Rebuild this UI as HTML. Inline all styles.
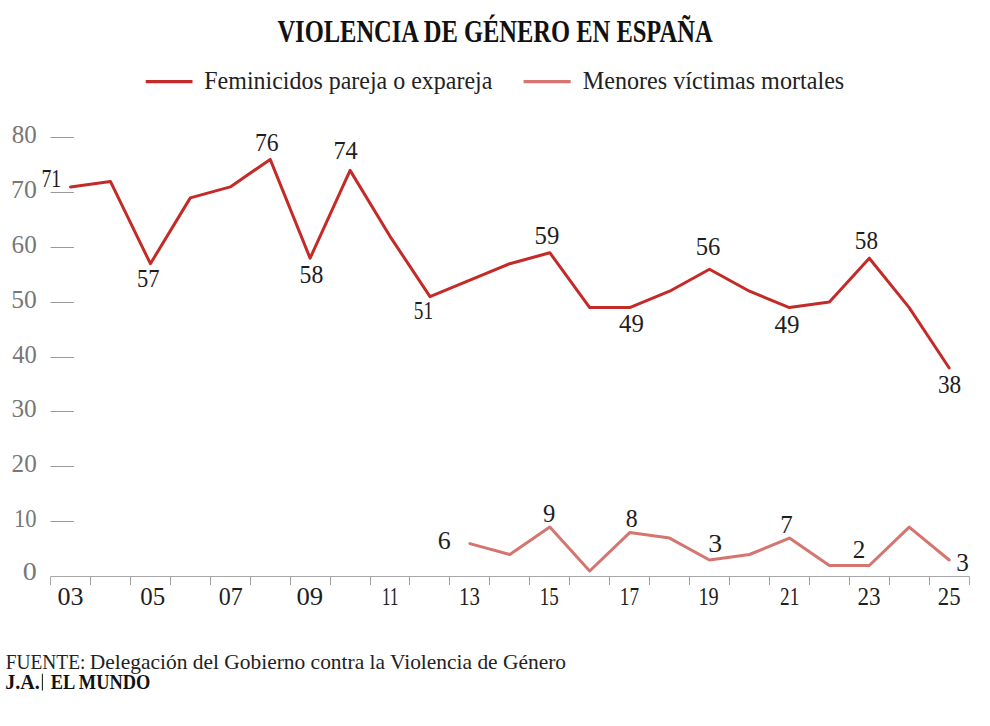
<!DOCTYPE html>
<html><head><meta charset="utf-8"><style>
html,body{margin:0;padding:0;background:#fff;width:990px;height:726px;overflow:hidden}
svg{position:absolute;left:0;top:0}
text{font-family:"Liberation Serif",serif}
</style></head><body>
<svg width="990" height="726" viewBox="0 0 990 726">
<text x="277.43" y="41.50" font-size="30.50" font-weight="bold" fill="#111" textLength="435.15" lengthAdjust="spacingAndGlyphs">VIOLENCIA DE GÉNERO EN ESPAÑA</text>
<line x1="145.7" y1="81.6" x2="192.5" y2="81.6" stroke="#c42b28" stroke-width="3.2"/>
<text x="204.31" y="88.80" font-size="26.00" fill="#222" textLength="288.03" lengthAdjust="spacingAndGlyphs">Feminicidos pareja o expareja</text>
<line x1="523.6" y1="81.6" x2="570.7" y2="81.6" stroke="#d47570" stroke-width="3.2"/>
<text x="582.70" y="88.80" font-size="26.00" fill="#222" textLength="261.58" lengthAdjust="spacingAndGlyphs">Menores víctimas mortales</text>
<line x1="50.6" y1="521.5" x2="73.9" y2="521.5" stroke="#9a9a9a" stroke-width="1"/>
<line x1="50.6" y1="466.5" x2="73.9" y2="466.5" stroke="#9a9a9a" stroke-width="1"/>
<line x1="50.6" y1="411.5" x2="73.9" y2="411.5" stroke="#9a9a9a" stroke-width="1"/>
<line x1="50.6" y1="357.5" x2="73.9" y2="357.5" stroke="#9a9a9a" stroke-width="1"/>
<line x1="50.6" y1="302.5" x2="73.9" y2="302.5" stroke="#9a9a9a" stroke-width="1"/>
<line x1="50.6" y1="247.5" x2="73.9" y2="247.5" stroke="#9a9a9a" stroke-width="1"/>
<line x1="50.6" y1="192.5" x2="73.9" y2="192.5" stroke="#9a9a9a" stroke-width="1"/>
<line x1="50.6" y1="137.5" x2="73.9" y2="137.5" stroke="#9a9a9a" stroke-width="1"/>
<text x="11.75" y="143.00" font-size="25.00" fill="#777" textLength="25.00" lengthAdjust="spacingAndGlyphs">80</text>
<text x="11.00" y="197.88" font-size="25.00" fill="#777" textLength="25.78" lengthAdjust="spacingAndGlyphs">70</text>
<text x="11.62" y="252.75" font-size="25.00" fill="#777" textLength="25.14" lengthAdjust="spacingAndGlyphs">60</text>
<text x="11.22" y="307.62" font-size="25.00" fill="#777" textLength="25.55" lengthAdjust="spacingAndGlyphs">50</text>
<text x="12.21" y="362.50" font-size="25.00" fill="#777" textLength="24.52" lengthAdjust="spacingAndGlyphs">40</text>
<text x="11.49" y="417.38" font-size="25.00" fill="#777" textLength="25.27" lengthAdjust="spacingAndGlyphs">30</text>
<text x="11.59" y="472.25" font-size="25.00" fill="#777" textLength="25.16" lengthAdjust="spacingAndGlyphs">20</text>
<text x="13.91" y="527.12" font-size="25.00" fill="#777" textLength="22.65" lengthAdjust="spacingAndGlyphs">10</text>
<text x="22.73" y="579.80" font-size="25.00" fill="#777" textLength="14.03" lengthAdjust="spacingAndGlyphs">0</text>
<path d="M50.5 585 V576.5 H969.5 V585" fill="none" stroke="#a8a8a8" stroke-width="1"/>
<line x1="90.5" y1="576.5" x2="90.5" y2="585" stroke="#a0a0a0" stroke-width="1"/>
<line x1="130.5" y1="576.5" x2="130.5" y2="585" stroke="#a0a0a0" stroke-width="1"/>
<line x1="170.5" y1="576.5" x2="170.5" y2="585" stroke="#a0a0a0" stroke-width="1"/>
<line x1="210.5" y1="576.5" x2="210.5" y2="585" stroke="#a0a0a0" stroke-width="1"/>
<line x1="250.5" y1="576.5" x2="250.5" y2="585" stroke="#a0a0a0" stroke-width="1"/>
<line x1="290.5" y1="576.5" x2="290.5" y2="585" stroke="#a0a0a0" stroke-width="1"/>
<line x1="330.5" y1="576.5" x2="330.5" y2="585" stroke="#a0a0a0" stroke-width="1"/>
<line x1="370.5" y1="576.5" x2="370.5" y2="585" stroke="#a0a0a0" stroke-width="1"/>
<line x1="409.5" y1="576.5" x2="409.5" y2="585" stroke="#a0a0a0" stroke-width="1"/>
<line x1="449.5" y1="576.5" x2="449.5" y2="585" stroke="#a0a0a0" stroke-width="1"/>
<line x1="489.5" y1="576.5" x2="489.5" y2="585" stroke="#a0a0a0" stroke-width="1"/>
<line x1="529.5" y1="576.5" x2="529.5" y2="585" stroke="#a0a0a0" stroke-width="1"/>
<line x1="569.5" y1="576.5" x2="569.5" y2="585" stroke="#a0a0a0" stroke-width="1"/>
<line x1="609.5" y1="576.5" x2="609.5" y2="585" stroke="#a0a0a0" stroke-width="1"/>
<line x1="649.5" y1="576.5" x2="649.5" y2="585" stroke="#a0a0a0" stroke-width="1"/>
<line x1="689.5" y1="576.5" x2="689.5" y2="585" stroke="#a0a0a0" stroke-width="1"/>
<line x1="729.5" y1="576.5" x2="729.5" y2="585" stroke="#a0a0a0" stroke-width="1"/>
<line x1="769.5" y1="576.5" x2="769.5" y2="585" stroke="#a0a0a0" stroke-width="1"/>
<line x1="809.5" y1="576.5" x2="809.5" y2="585" stroke="#a0a0a0" stroke-width="1"/>
<line x1="849.5" y1="576.5" x2="849.5" y2="585" stroke="#a0a0a0" stroke-width="1"/>
<line x1="889.5" y1="576.5" x2="889.5" y2="585" stroke="#a0a0a0" stroke-width="1"/>
<line x1="929.5" y1="576.5" x2="929.5" y2="585" stroke="#a0a0a0" stroke-width="1"/>
<text x="57.41" y="604.95" font-size="25.00" fill="#1e1e1e" textLength="26.00" lengthAdjust="spacingAndGlyphs">03</text>
<text x="140.25" y="604.95" font-size="25.00" fill="#1e1e1e" textLength="24.92" lengthAdjust="spacingAndGlyphs">05</text>
<text x="218.79" y="604.95" font-size="25.00" fill="#1e1e1e" textLength="24.01" lengthAdjust="spacingAndGlyphs">07</text>
<text x="296.49" y="604.95" font-size="25.00" fill="#1e1e1e" textLength="26.71" lengthAdjust="spacingAndGlyphs">09</text>
<text x="382.12" y="605.20" font-size="25.00" fill="#1e1e1e" textLength="16.19" lengthAdjust="spacingAndGlyphs">11</text>
<text x="459.07" y="604.95" font-size="25.00" fill="#1e1e1e" textLength="20.85" lengthAdjust="spacingAndGlyphs">13</text>
<text x="539.83" y="604.95" font-size="25.00" fill="#1e1e1e" textLength="19.01" lengthAdjust="spacingAndGlyphs">15</text>
<text x="619.81" y="605.20" font-size="25.00" fill="#1e1e1e" textLength="19.25" lengthAdjust="spacingAndGlyphs">17</text>
<text x="698.52" y="604.95" font-size="25.00" fill="#1e1e1e" textLength="20.21" lengthAdjust="spacingAndGlyphs">19</text>
<text x="780.06" y="605.20" font-size="25.00" fill="#1e1e1e" textLength="19.20" lengthAdjust="spacingAndGlyphs">21</text>
<text x="857.48" y="604.95" font-size="25.00" fill="#1e1e1e" textLength="23.12" lengthAdjust="spacingAndGlyphs">23</text>
<text x="937.80" y="604.95" font-size="25.00" fill="#1e1e1e" textLength="22.79" lengthAdjust="spacingAndGlyphs">25</text>
<polyline points="70.5,186.9 110.4,181.4 150.4,263.7 190.3,197.9 230.3,186.9 270.2,159.4 310.1,258.2 350.1,170.4 390.0,236.3 430.0,296.6 469.9,280.2 509.8,263.7 549.8,252.7 589.7,307.6 629.7,307.6 669.6,291.2 709.5,269.2 749.5,291.2 789.4,307.6 829.4,302.1 869.3,258.2 909.2,307.6 949.2,368.0" fill="none" stroke="#c42b28" stroke-width="3" stroke-linejoin="round" stroke-linecap="round"/>
<polyline points="469.9,543.6 509.8,554.5 549.8,527.1 589.7,571.0 629.7,532.6 669.6,538.1 709.5,560.0 749.5,554.5 789.4,538.1 829.4,565.5 869.3,565.5 909.2,527.1 949.2,560.0" fill="none" stroke="#d47570" stroke-width="3" stroke-linejoin="round" stroke-linecap="round"/>
<text x="41.50" y="186.90" font-size="25.00" fill="#1e1e1e" textLength="19.68" lengthAdjust="spacingAndGlyphs">71</text>
<text x="137.09" y="286.65" font-size="25.00" fill="#1e1e1e" textLength="22.56" lengthAdjust="spacingAndGlyphs">57</text>
<text x="255.04" y="150.65" font-size="25.00" fill="#1e1e1e" textLength="23.67" lengthAdjust="spacingAndGlyphs">76</text>
<text x="299.62" y="282.75" font-size="25.00" fill="#1e1e1e" textLength="23.78" lengthAdjust="spacingAndGlyphs">58</text>
<text x="333.40" y="159.30" font-size="25.00" fill="#1e1e1e" textLength="24.29" lengthAdjust="spacingAndGlyphs">74</text>
<text x="413.78" y="319.05" font-size="25.00" fill="#1e1e1e" textLength="19.27" lengthAdjust="spacingAndGlyphs">51</text>
<text x="534.56" y="243.75" font-size="25.00" fill="#1e1e1e" textLength="24.75" lengthAdjust="spacingAndGlyphs">59</text>
<text x="619.10" y="331.95" font-size="25.00" fill="#1e1e1e" textLength="24.81" lengthAdjust="spacingAndGlyphs">49</text>
<text x="695.67" y="254.85" font-size="25.00" fill="#1e1e1e" textLength="24.67" lengthAdjust="spacingAndGlyphs">56</text>
<text x="774.40" y="332.55" font-size="25.00" fill="#1e1e1e" textLength="25.03" lengthAdjust="spacingAndGlyphs">49</text>
<text x="854.86" y="249.05" font-size="25.00" fill="#1e1e1e" textLength="23.12" lengthAdjust="spacingAndGlyphs">58</text>
<text x="937.98" y="393.35" font-size="25.00" fill="#1e1e1e" textLength="23.30" lengthAdjust="spacingAndGlyphs">38</text>
<text x="437.78" y="548.65" font-size="25.00" fill="#1e1e1e" textLength="13.00" lengthAdjust="spacingAndGlyphs">6</text>
<text x="543.11" y="521.65" font-size="25.00" fill="#1e1e1e" textLength="12.30" lengthAdjust="spacingAndGlyphs">9</text>
<text x="625.79" y="527.25" font-size="25.00" fill="#1e1e1e" textLength="11.91" lengthAdjust="spacingAndGlyphs">8</text>
<text x="708.26" y="551.55" font-size="25.00" fill="#1e1e1e" textLength="13.92" lengthAdjust="spacingAndGlyphs">3</text>
<text x="780.15" y="532.70" font-size="25.00" fill="#1e1e1e" textLength="12.47" lengthAdjust="spacingAndGlyphs">7</text>
<text x="852.79" y="557.50" font-size="25.00" fill="#1e1e1e" textLength="12.59" lengthAdjust="spacingAndGlyphs">2</text>
<text x="956.39" y="570.65" font-size="25.00" fill="#1e1e1e" textLength="12.59" lengthAdjust="spacingAndGlyphs">3</text>
<text x="5.74" y="668.91" font-size="21.00" fill="#222" textLength="79.63" lengthAdjust="spacingAndGlyphs">FUENTE:</text>
<text x="89.78" y="669.20" font-size="21.00" fill="#222" textLength="476.33" lengthAdjust="spacingAndGlyphs">Delegación del Gobierno contra la Violencia de Género</text>
<text x="5.22" y="688.61" font-size="20.50" font-weight="bold" fill="#111" textLength="34.57" lengthAdjust="spacingAndGlyphs">J.A.</text>
<line x1="42.4" y1="673.7" x2="42.4" y2="690.4" stroke="#222" stroke-width="1.1"/>
<text x="50.69" y="688.69" font-size="20.50" font-weight="bold" fill="#111" textLength="99.72" lengthAdjust="spacingAndGlyphs">EL MUNDO</text>
</svg></body></html>
